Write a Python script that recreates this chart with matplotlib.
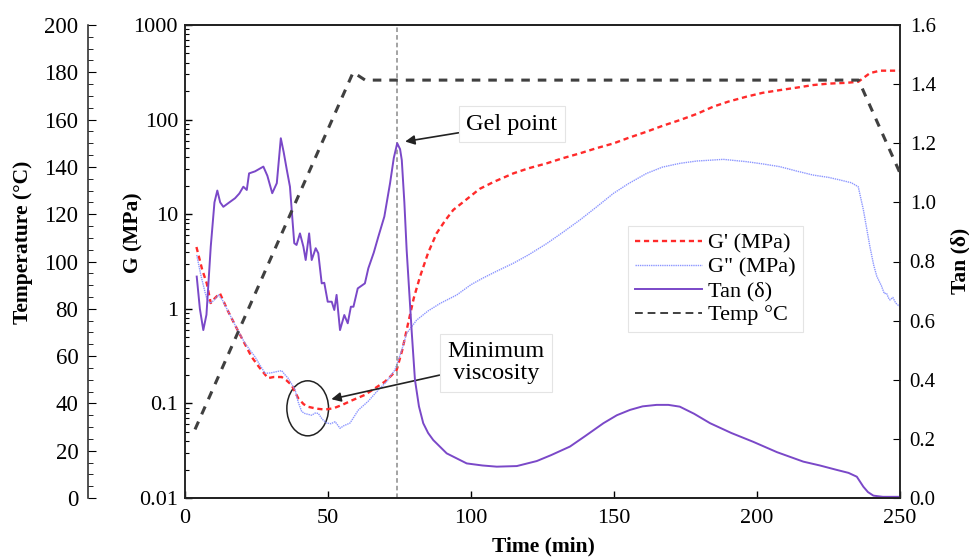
import matplotlib.pyplot as plt
from matplotlib.patches import Ellipse
from matplotlib.lines import Line2D

plt.rcParams['font.family'] = ['Liberation Serif', 'DejaVu Serif']

# Storage modulus G' (MPa)
t_gp = [4, 6, 7.6, 9, 10.5, 12.2, 15, 18.1, 20.5, 23.3, 26, 29, 31, 33.8, 35.5,
        37.3, 39.6, 41.5, 43.1, 46, 49, 52, 54.8, 58.5, 62.9, 66.5, 69.9, 72,
        74, 76, 78, 80, 82.2, 85, 88, 91, 93.8, 98, 103, 108, 114.8, 120, 126.5,
        132, 138.1, 144, 149.8, 155, 161.4, 167, 173.1, 179, 184.7, 190, 196.4,
        202, 208, 214, 219.7, 225, 231.4, 235.4, 237.5, 239.5, 243, 250]
g_prime = [4.5, 2.6, 1.86, 1.15, 1.3, 1.46, 0.95, 0.62, 0.45, 0.31, 0.24, 0.185,
           0.19, 0.19, 0.175, 0.156, 0.113, 0.098, 0.092, 0.088, 0.086, 0.089,
           0.096, 0.108, 0.123, 0.145, 0.17, 0.195, 0.225, 0.37, 0.7, 1.3, 2.2,
           3.9, 6.3, 8.6, 11.1, 14, 18.5, 22, 27, 30.5, 34.5, 39, 44, 50, 56, 64,
           74.5, 86, 99, 115, 137, 155, 175, 192, 205, 218, 232, 240, 245, 251,
           280, 310, 329, 329]

# Loss modulus G'' (MPa)
t_gpp = [4.1, 5.5, 7, 7.6, 8.7, 10, 11.7, 13, 15, 18.1, 21, 24.5, 26, 28, 30,
         31.5, 33.8, 35, 36.1, 38.5, 39.5, 40.8, 42, 44.3, 45.5, 46.6, 48, 49.5,
         51, 52.5, 54.2, 55.5, 57.7, 60.6, 64, 67.6, 70.5, 73.4, 75.8, 77.5, 81,
         85, 89.2, 95, 100, 104, 109, 114.8, 120, 126.5, 132, 138.1, 144, 149.8,
         155, 161.4, 167, 173.1, 179, 184.7, 188.2, 192, 196.4, 202, 208, 214,
         219.7, 225, 229, 233, 235.4, 237.2, 239.5, 240.8, 241.9, 243.5, 244.5,
         245.3, 246, 246.5, 247.5, 248.5, 250]
g_dprime = [3.7, 2.3, 1.5, 1.29, 1.14, 1.22, 1.4, 1.25, 0.95, 0.62, 0.43, 0.31,
            0.26, 0.208, 0.21, 0.215, 0.222, 0.2, 0.184, 0.139, 0.105, 0.082,
            0.078, 0.075, 0.079, 0.0785, 0.068, 0.062, 0.061, 0.064, 0.0546,
            0.058, 0.062, 0.085, 0.105, 0.139, 0.17, 0.226, 0.367, 0.55, 0.76,
            0.95, 1.14, 1.4, 1.8, 2.1, 2.5, 3.03, 3.7, 4.9, 6.4, 8.7, 12, 16.6,
            21, 27, 31.5, 34.5, 36.5, 37.4, 38, 37, 35.9, 34, 31.8, 28.5, 25.9,
            24.5, 23, 21.5, 19.5, 11.1, 4.5, 2.9, 2.2, 1.75, 1.45, 1.46, 1.3,
            1.24, 1.32, 1.15, 1.05]

# Loss factor tan(delta)
t_tan = [4.1, 5.2, 6.4, 7.5, 9, 10.3, 11.3, 12.3, 13.4, 15.5, 17.5, 19, 20.4,
         21.6, 22.4, 24.5, 27.4, 28.8, 30.5, 32.1, 33.5, 34.5, 35.6, 36.7, 37.5,
         38.2, 39, 40.2, 41.4, 42.2, 43.4, 44.3, 45.7, 46.6, 47.8, 48.7, 49.9,
         51.3, 52.2, 53, 54.2, 55.7, 56.9, 58, 58.9, 60.4, 62.9, 64.1, 66, 67.6,
         69.7, 71.7, 73, 74.2, 75.2, 75.8, 76.7, 77.5, 79.3, 80.4, 81.8, 83.3,
         85, 86.8, 91.5, 98.5, 104, 109, 116, 123, 128, 134.6, 140, 146.3, 151,
         155.6, 160, 164.9, 169, 173, 178, 183.6, 191, 198.7, 207, 216.2, 222,
         227.9, 232, 234.9, 237.2, 238.8, 240.7, 244, 250]
tan_d = [0.749, 0.64, 0.568, 0.62, 0.85, 1.0, 1.04, 1.0, 0.985, 1.0, 1.014,
         1.03, 1.053, 1.042, 1.098, 1.105, 1.121, 1.09, 1.031, 1.065, 1.217,
         1.17, 1.11, 1.053, 0.95, 0.862, 0.856, 0.895, 0.85, 0.805, 0.895,
         0.805, 0.845, 0.828, 0.726, 0.728, 0.664, 0.664, 0.636, 0.687, 0.568,
         0.619, 0.591, 0.647, 0.647, 0.709, 0.726, 0.777, 0.83, 0.884, 0.952,
         1.065, 1.15, 1.2, 1.18, 1.143, 1.0, 0.839, 0.558, 0.40, 0.31, 0.253,
         0.22, 0.196, 0.151, 0.117, 0.11, 0.106, 0.108, 0.125, 0.145, 0.174,
         0.21, 0.253, 0.28, 0.298, 0.31, 0.315, 0.315, 0.309, 0.285, 0.253,
         0.22, 0.19, 0.155, 0.123, 0.11, 0.095, 0.085, 0.072, 0.038, 0.02,
         0.008, 0.004, 0.004]

# Cure temperature profile
t_temp = [3.5, 58.8, 63, 235.5, 250]
temp_c = [29, 180, 176.7, 176.7, 137.4]

gel_time = 74

fig = plt.figure(figsize=(9.69, 5.58), dpi=100)
ax = fig.add_axes([185 / 969, 60 / 558, 715 / 969, 473 / 558])
ax_tan = ax.twinx()
ax_temp = ax.twinx()

# G' / G'' on the log axis
l_gp, = ax.plot(t_gp, g_prime, color='#ff2a2a', lw=1.7, ls=(0, (2.2, 1.6)))
l_gpp, = ax.plot(t_gpp, g_dprime, color='#8c96ff', lw=1.0, ls=(0, (1, 0.6)))
ax.set_yscale('log')
ax.set_ylim(0.01, 1000)
ax.set_xlim(0, 250)
ax.set_xticks([0, 50, 100, 150, 200, 250])
ax.set_yticks([0.01, 0.1, 1, 10, 100, 1000])
ax.set_yticklabels(['0.01', '0.1', '1', '10', '100', '1000'])
ax.tick_params(axis='both', which='both', direction='in')
ax.tick_params(axis='y', which='major', length=5, width=1, labelsize=16, pad=5)
ax.tick_params(axis='y', which='minor', length=3, width=0.8)
ax.tick_params(axis='x', which='major', length=5, width=1, labelsize=16, pad=8)
ax.set_xlabel('Time (min)', fontsize=15.5, fontweight='bold', va='top')
ax.xaxis.set_label_coords(0.5007, -0.082)
ax.set_ylabel('G (MPa)', fontsize=15.5, fontweight='bold')
ax.yaxis.set_label_coords(-0.0587, 0.56)
ax.axvline(gel_time, color='#8a8a8a', lw=1.1, ls=(0, (3, 2)))

# tan(delta) on the right
l_tan, = ax_tan.plot(t_tan, tan_d, color='#7a48c8', lw=1.4)
ax_tan.set_ylim(0, 1.6)
ax_tan.set_yticks([0, 0.2, 0.4, 0.6, 0.8, 1.0, 1.2, 1.4, 1.6])
ax_tan.set_yticklabels(['0.0', '0.2', '0.4', '0.6', '0.8', '1.0', '1.2',
                        '1.4', '1.6'])
ax_tan.tick_params(axis='y', direction='in', length=5, labelsize=15, pad=7)
ax_tan.set_ylabel('Tan (δ)', fontsize=15.5, fontweight='bold')
ax_tan.yaxis.set_label_coords(1.07, 0.501)

# temperature on an offset axis at the far left
l_temp, = ax_temp.plot(t_temp, temp_c, color='#404040', lw=2.2,
                       ls=(0, (2.8, 2.6)))
ax_temp.set_ylim(0, 200)
ax_temp.set_yticks(range(0, 201, 20))
ax_temp.set_yticks(range(0, 201, 5), minor=True)
ax_temp.yaxis.set_ticks_position('left')
ax_temp.yaxis.set_label_position('left')
ax_temp.spines['left'].set_position(('outward', 97 * 72 / 100))
ax_temp.spines['left'].set_visible(True)
ax_temp.spines['right'].set_visible(False)
ax_temp.tick_params(axis='y', which='major', direction='in', length=6,
                    labelsize=16.5, pad=7)
ax_temp.tick_params(axis='y', which='minor', direction='in', length=3.5)
ax_temp.set_ylabel('Temperature (°C)', fontsize=15.5, fontweight='bold')
ax_temp.yaxis.set_label_coords(-0.212, 0.541)

for a in (ax, ax_tan, ax_temp):
    for s in a.spines.values():
        s.set_linewidth(1.1)
        s.set_color('#222222')

box = dict(boxstyle='square,pad=0.3', fc='white', ec='#e4e4e4', lw=0.8)
arrow = dict(arrowstyle='-|>', color='#222222', lw=1.2, mutation_scale=14,
             shrinkA=0, shrinkB=1)

ax_tan.annotate('Gel point', xy=(76.5, 1.205), xytext=(114.3, 1.265),
                fontsize=17.5, ha='center', va='center', bbox=box,
                arrowprops=arrow, zorder=5)

ax.annotate('Minimum\nviscosity', xy=(50.7, 0.11), xytext=(108.7, 0.27),
            fontsize=17.5, ha='center', va='center', bbox=box,
            linespacing=1.1, arrowprops=arrow, zorder=5)
ax.add_patch(Ellipse((0.1716, 0.1896), 0.0583, 0.1163,
                     transform=ax.transAxes, fill=False, ec='#222222',
                     lw=1.1))

handles = [l_gp, l_gpp, l_tan,
           Line2D([], [], color='#404040', lw=1.4, ls=(0, (4, 2.5)))]
leg = ax_temp.legend(handles, ["G' (MPa)", 'G" (MPa)', 'Tan (δ)', 'Temp °C'],
                     loc='upper left', bbox_to_anchor=(0.62, 0.574),
                     borderaxespad=0, fontsize=16, labelspacing=0.15,
                     handlelength=3.0, handletextpad=0.3, fancybox=False,
                     edgecolor='#e4e4e4', framealpha=1, borderpad=0.3)
leg.get_frame().set_linewidth(0.8)

fig.savefig('out.png', dpi=100)
